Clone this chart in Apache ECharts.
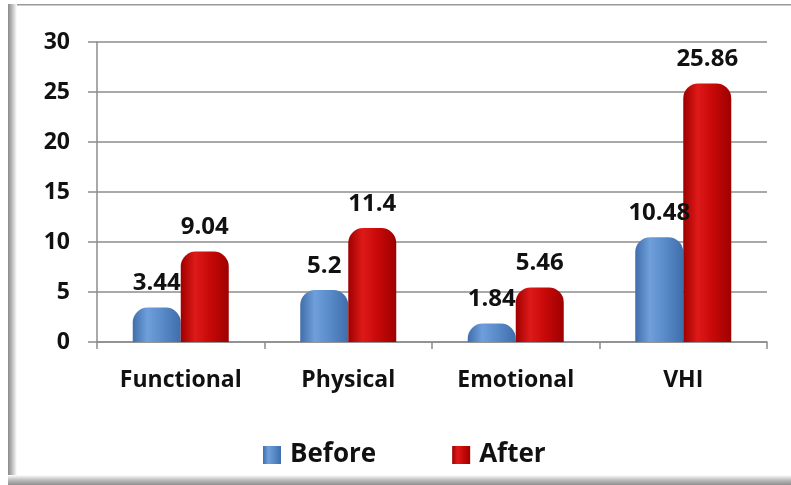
<!DOCTYPE html>
<html>
<head>
<meta charset="utf-8">
<style>
  html, body { margin: 0; padding: 0; background: #fff; }
  #chart { width: 791px; height: 485px; }
</style>
<script src="https://cdn.jsdelivr.net/npm/echarts@6/dist/echarts.min.js"></script>
</head>
<body>
<div id="chart"></div>
<script>
// VHI subscale scores before and after
const categories = ['Functional', 'Physical', 'Emotional', 'VHI'];
const beforeValues = [3.44, 5.2, 1.84, 10.48];
const afterValues = [9.04, 11.4, 5.46, 25.86];
const yTicks = [0, 5, 10, 15, 20, 25, 30];

const FONT = '"Open Sans", "Noto Sans", sans-serif';

// Cylinder-like horizontal shading for each series
function shade(edge, mid, light) {
  return new echarts.graphic.LinearGradient(0, 0, 1, 0, [
    { offset: 0, color: edge },
    { offset: 0.3, color: light },
    { offset: 0.6, color: mid },
    { offset: 1, color: edge }
  ]);
}
const blueFill = shade('#3f6eaa', '#5a8cca', '#6f9fdb');
const redFill = shade('#9e0000', '#c80909', '#de1a18');

const chart = echarts.init(document.getElementById('chart'), null, { renderer: 'canvas' });

const labelStyle = {
  show: true,
  position: 'top',
  distance: 12,
  fontFamily: FONT,
  fontWeight: 'bold',
  fontSize: 24,
  color: '#111'
};

// Frame: thin top rule, shaded left and bottom edges
const frame = [
  {
    type: 'rect',
    shape: { x: 8, y: 4, width: 783, height: 1.5 },
    style: { fill: '#9a9a9a' },
    z: -5
  },
  {
    type: 'rect',
    shape: { x: 8, y: 4, width: 9, height: 481 },
    style: {
      fill: new echarts.graphic.LinearGradient(0, 0, 1, 0, [
        { offset: 0, color: '#8a8a8a' },
        { offset: 0.4, color: '#b5b5b5' },
        { offset: 1, color: '#ffffff' }
      ])
    },
    z: -5
  },
  {
    type: 'rect',
    shape: { x: 8, y: 475, width: 783, height: 10 },
    style: {
      fill: new echarts.graphic.LinearGradient(0, 0, 0, 1, [
        { offset: 0, color: '#ffffff' },
        { offset: 0.5, color: '#bdbdbd' },
        { offset: 1, color: '#8e8e8e' }
      ])
    },
    z: -5
  }
];

chart.setOption({
  animation: false,
  backgroundColor: '#fff',
  graphic: frame,
  grid: { left: 97, right: 24, top: 42, bottom: 143, containLabel: false },
  legend: {
    bottom: 12,
    left: 258,
    itemWidth: 18,
    itemHeight: 18,
    itemGap: 76,
    icon: 'rect',
    textStyle: { fontFamily: FONT, fontWeight: 'bold', fontSize: 26, color: '#111', padding: [0, 0, 0, 4] },
    data: ['Before', 'After']
  },
  xAxis: {
    type: 'category',
    data: categories,
    axisLine: { show: true, lineStyle: { color: '#8c8c8c', width: 1.5 } },
    axisTick: { show: true, length: 7, lineStyle: { color: '#8c8c8c', width: 1.5 } },
    axisLabel: { fontFamily: FONT, fontWeight: 'bold', fontSize: 23, color: '#111', margin: 27 }
  },
  yAxis: {
    type: 'value',
    min: yTicks[0],
    max: yTicks[yTicks.length - 1],
    interval: 5,
    axisLine: { show: true, lineStyle: { color: '#8c8c8c', width: 1.5 } },
    axisTick: { show: true, length: 9, lineStyle: { color: '#8c8c8c', width: 1.5 } },
    splitLine: { show: true, lineStyle: { color: '#8c8c8c', width: 1.5 } },
    axisLabel: { fontFamily: FONT, fontWeight: 'bold', fontSize: 23, color: '#111', margin: 27 }
  },
  series: [
    {
      name: 'Before',
      type: 'bar',
      data: beforeValues,
      barWidth: 48,
      barGap: '0%',
      itemStyle: { color: blueFill, borderRadius: [15, 15, 0, 0] },
      label: labelStyle
    },
    {
      name: 'After',
      type: 'bar',
      data: afterValues,
      barWidth: 48,
      barGap: '0%',
      itemStyle: { color: redFill, borderRadius: [15, 15, 0, 0] },
      label: labelStyle
    }
  ]
});
</script>
</body>
</html>
